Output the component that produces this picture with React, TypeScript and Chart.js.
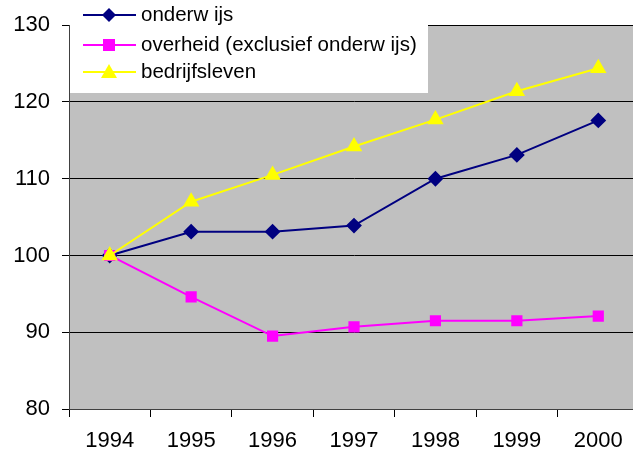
import React, { useEffect, useRef } from "react";
import { Chart, registerables } from "chart.js";

Chart.register(...registerables);

const years = ["1994", "1995", "1996", "1997", "1998", "1999", "2000"];
const onderwijs = [100, 103.1, 103.1, 103.9, 110, 113.1, 117.6];
const overheid = [100, 94.6, 89.5, 90.7, 91.5, 91.5, 92.1];
const bedrijfsleven = [100, 107.0, 110.5, 114.2, 117.7, 121.4, 124.4];
const seriesLabels = ["onderw ijs", "overheid (exclusief onderw ijs)", "bedrijfsleven"];

const FONT = "'Liberation Sans', Arial, sans-serif";

const bgPlugin = {
  id: "plotBg",
  beforeDraw(chart: any) {
    const { ctx, chartArea } = chart;
    ctx.save();
    ctx.fillStyle = "#C0C0C0";
    ctx.fillRect(chartArea.left, chartArea.top, chartArea.right - chartArea.left, chartArea.bottom - chartArea.top);
    ctx.restore();
  },
};

const legendPlugin = {
  id: "boxLegend",
  afterDatasetsDraw(chart: any) {
    const { ctx } = chart;
    ctx.save();
    ctx.fillStyle = "#FFFFFF";
    ctx.fillRect(70, 0, 358, 93);
    const rows = [15, 45, 72];
    chart.data.datasets.forEach((ds: any, i: number) => {
      const y = rows[i];
      ctx.strokeStyle = ds.borderColor;
      ctx.lineWidth = 2;
      ctx.beginPath();
      ctx.moveTo(83, y);
      ctx.lineTo(136, y);
      ctx.stroke();
      ctx.fillStyle = ds.pointBackgroundColor;
      const cx = 109;
      if (ds.pointStyle === "rectRot") {
        ctx.beginPath();
        ctx.moveTo(cx, y - 7);
        ctx.lineTo(cx + 7, y);
        ctx.lineTo(cx, y + 7);
        ctx.lineTo(cx - 7, y);
        ctx.closePath();
        ctx.fill();
      } else if (ds.pointStyle === "rect") {
        ctx.fillRect(cx - 6, y - 6, 12, 12);
      } else {
        ctx.beginPath();
        ctx.moveTo(cx, y - 8);
        ctx.lineTo(cx + 8, y + 6);
        ctx.lineTo(cx - 8, y + 6);
        ctx.closePath();
        ctx.fill();
      }
      ctx.fillStyle = "#000";
      ctx.font = `20.5px ${FONT}`;
      ctx.textBaseline = "middle";
      ctx.textAlign = "left";
      ctx.fillText(ds.label, 141, y);
    });
    ctx.restore();
  },
};

export default function App() {
  const ref = useRef<HTMLCanvasElement>(null);
  useEffect(() => {
    document.body.style.margin = "0";
    document.body.style.overflow = "hidden";
    const chart = new Chart(ref.current!, {
      type: "line",
      data: {
        labels: years,
        datasets: [
          {
            label: seriesLabels[0],
            data: onderwijs,
            borderColor: "#000080",
            backgroundColor: "#000080",
            pointBackgroundColor: "#000080",
            pointBorderColor: "#000080",
            pointStyle: "rectRot",
            pointRadius: 6.5,
            borderWidth: 2,
            order: 2,
          },
          {
            label: seriesLabels[1],
            data: overheid,
            borderColor: "#FF00FF",
            backgroundColor: "#FF00FF",
            pointBackgroundColor: "#FF00FF",
            pointBorderColor: "#FF00FF",
            pointStyle: "rect",
            pointRadius: 6.5,
            borderWidth: 2,
            order: 1,
          },
          {
            label: seriesLabels[2],
            data: bedrijfsleven,
            borderColor: "#FFFF00",
            backgroundColor: "#FFFF00",
            pointBackgroundColor: "#FFFF00",
            pointBorderColor: "#FFFF00",
            pointStyle: "triangle",
            pointRadius: 7.5,
            borderWidth: 2,
            order: 0,
          },
        ],
      },
      options: {
        responsive: false,
        animation: false,
        layout: { autoPadding: false, padding: { top: 22, left: 0, right: 0, bottom: 0 } },
        plugins: { legend: { display: false }, tooltip: { enabled: false } },
        scales: {
          x: {
            offset: true,
            grid: { offset: true, drawOnChartArea: false, drawTicks: true, tickLength: 8, color: "#000" },
            border: { color: "#404040", width: 1 },
            ticks: { color: "#000", font: { family: FONT, size: 22 }, padding: 11, maxRotation: 0 },
            afterFit(scale: any) {
              scale.height = 49;
              scale.paddingLeft = 0;
              scale.paddingRight = 0;
            },
          },
          y: {
            min: 80,
            max: 130,
            ticks: { stepSize: 10, color: "#000", font: { family: FONT, size: 22 }, padding: 12 },
            grid: { color: "#000", lineWidth: 1, tickLength: 7, drawTicks: true },
            border: { color: "#404040", width: 1 },
            afterFit(scale: any) {
              scale.width = 69;
            },
          },
        },
      },
      plugins: [bgPlugin, legendPlugin],
    } as any);
    return () => chart.destroy();
  }, []);
  return (
    <div style={{ position: "fixed", left: 0, top: 0, width: 633, height: 458, overflow: "hidden" }}>
      <canvas ref={ref} width={639} height={458} style={{ display: "block" }} />
    </div>
  );
}
